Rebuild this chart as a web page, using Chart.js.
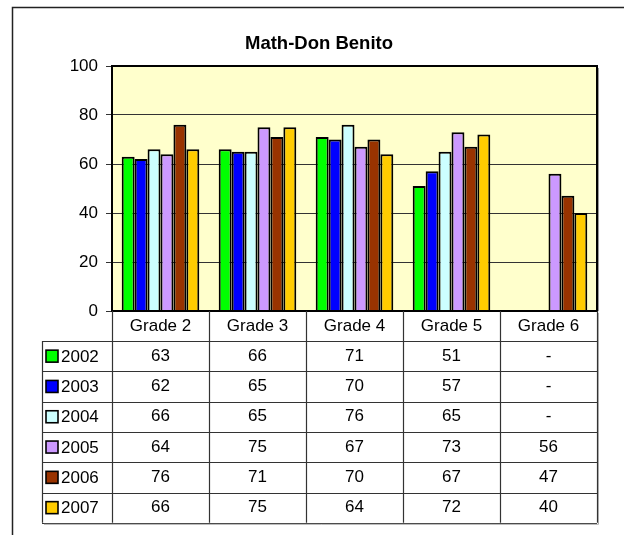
<!DOCTYPE html>
<html>
<head>
<meta charset="utf-8">
<title>Math-Don Benito</title>
<script src="https://cdn.jsdelivr.net/npm/chart.js@4.4.1/dist/chart.umd.min.js"></script>
<style>
  html, body { margin: 0; padding: 0; background: #fff; }
  #chartBox { position: relative; width: 624px; height: 535px; }
</style>
</head>
<body>
<div id="chartBox"><canvas id="mathChart" width="624" height="535"></canvas></div>
<script>
const grades = ["Grade 2", "Grade 3", "Grade 4", "Grade 5", "Grade 6"];
const years = ["2002", "2003", "2004", "2005", "2006", "2007"];
const scores2002 = [63, 66, 71, 51, null];
const scores2003 = [62, 65, 70, 57, null];
const scores2004 = [66, 65, 76, 65, null];
const scores2005 = [64, 75, 67, 73, 56];
const scores2006 = [76, 71, 70, 67, 47];
const scores2007 = [66, 75, 64, 72, 40];
const yearColors = ["#00ff00", "#0000ff", "#ccffff", "#cc99ff", "#993300", "#ffcc00"];
const yTicks = [0, 20, 40, 60, 80, 100];

const allScores = [scores2002, scores2003, scores2004, scores2005, scores2006, scores2007];
const FONT = '"Liberation Sans", Arial, sans-serif';

// plot area / table geometry
const headerH = 30;
const rowH = 30.3;
const legendLeft = 42;

const excelBits = {
  id: "excelBits",
  beforeDraw(chart) {
    const { ctx, chartArea: a } = chart;
    ctx.save();
    ctx.fillStyle = "#ffffcc";
    ctx.fillRect(a.left, a.top, a.right - a.left, a.bottom - a.top);
    ctx.restore();
  },
  afterDatasetsDraw(chart) {
    const { ctx, chartArea: a } = chart;
    ctx.save();
    // shadow + plot frame
    ctx.strokeStyle = "#999";
    ctx.lineWidth = 1;
    ctx.beginPath();
    ctx.moveTo(a.right + 1.5, a.top + 2);
    ctx.lineTo(a.right + 1.5, a.bottom);
    ctx.stroke();
    ctx.strokeStyle = "#000";
    ctx.lineWidth = 2;
    ctx.strokeRect(a.left, a.top, a.right - a.left, a.bottom - a.top);
    ctx.restore();
  },
  afterDraw(chart) {
    const { ctx, chartArea: a } = chart;
    const xs = chart.scales.x;
    const half = (xs.getPixelForValue(1) - xs.getPixelForValue(0)) / 2;
    const tableTop = a.bottom + headerH;
    const tableBottom = tableTop + rowH * years.length;

    ctx.save();
    // outer chart frame (runs off the right and bottom of the picture)
    ctx.strokeStyle = "#222";
    ctx.lineWidth = 1.5;
    ctx.beginPath();
    ctx.moveTo(12.5, 535);
    ctx.lineTo(12.5, 7.5);
    ctx.lineTo(624, 7.5);
    ctx.stroke();

    // title
    ctx.fillStyle = "#000";
    ctx.font = "bold 18.5px " + FONT;
    ctx.textAlign = "center";
    ctx.textBaseline = "middle";
    ctx.fillText("Math-Don Benito", 319, 44);

    // data table grid
    ctx.strokeStyle = "#333";
    ctx.lineWidth = 1.2;
    ctx.beginPath();
    for (let i = 0; i <= grades.length; i++) {
      const x = Math.round(xs.getPixelForValue(i) - half) + 0.5;
      ctx.moveTo(x, a.bottom);
      ctx.lineTo(x, tableBottom);
    }
    ctx.moveTo(legendLeft + 0.5, tableTop);
    ctx.lineTo(legendLeft + 0.5, tableBottom);
    for (let r = 0; r <= years.length; r++) {
      const y = Math.round(tableTop + r * rowH) + 0.5;
      ctx.moveTo(legendLeft, y);
      ctx.lineTo(a.right, y);
    }
    ctx.stroke();
    // light shadow on table
    ctx.strokeStyle = "#aaa";
    ctx.lineWidth = 1;
    ctx.beginPath();
    ctx.moveTo(a.right + 1.5, a.bottom + 2);
    ctx.lineTo(a.right + 1.5, tableBottom + 1.5);
    ctx.lineTo(legendLeft + 2, tableBottom + 1.5);
    ctx.stroke();

    // rows: legend keys, year labels and values
    ctx.font = "17px " + FONT;
    years.forEach((yr, r) => {
      const cy = tableTop + r * rowH + rowH / 2;
      ctx.fillStyle = yearColors[r];
      ctx.fillRect(46, cy - 6, 12, 12);
      ctx.strokeStyle = "#000";
      ctx.lineWidth = 1.6;
      ctx.strokeRect(46, cy - 6, 12, 12);
      ctx.fillStyle = "#000";
      ctx.textAlign = "left";
      ctx.fillText(yr, 61, cy + 1);
      ctx.textAlign = "center";
      allScores[r].forEach((v, i) => {
        ctx.fillText(v === null ? "-" : String(v), xs.getPixelForValue(i), cy);
      });
    });
    ctx.restore();
  }
};

const ctx = document.getElementById("mathChart").getContext("2d");
new Chart(ctx, {
  type: "bar",
  data: {
    labels: grades,
    datasets: years.map((yr, i) => ({
      label: yr,
      data: allScores[i],
      backgroundColor: yearColors[i],
      borderColor: "#000",
      borderWidth: 2,
      categoryPercentage: 0.8,
      barPercentage: 1.0
    }))
  },
  options: {
    responsive: false,
    animation: false,
    events: [],
    layout: {
      padding: { top: 66, right: 27, bottom: 0, left: 0 }
    },
    scales: {
      x: {
        grid: { display: false, drawTicks: false },
        border: { display: false },
        ticks: {
          color: "#000",
          font: { family: FONT, size: 17 },
          padding: 5,
          maxRotation: 0,
          autoSkip: false
        },
        afterFit(axis) { axis.height = 224; }
      },
      y: {
        min: 0,
        max: 100,
        border: { display: false },
        grid: {
          color: "#333",
          lineWidth: 1,
          tickLength: 6,
          drawTicks: true
        },
        afterBuildTicks(axis) {
          axis.ticks = yTicks.map(v => ({ value: v }));
        },
        ticks: {
          color: "#000",
          font: { family: FONT, size: 17 },
          padding: 8
        },
        afterFit(axis) { axis.width = 112; }
      }
    },
    plugins: {
      legend: { display: false },
      tooltip: { enabled: false },
      title: { display: false }
    }
  },
  plugins: [excelBits]
});
</script>
</body>
</html>
